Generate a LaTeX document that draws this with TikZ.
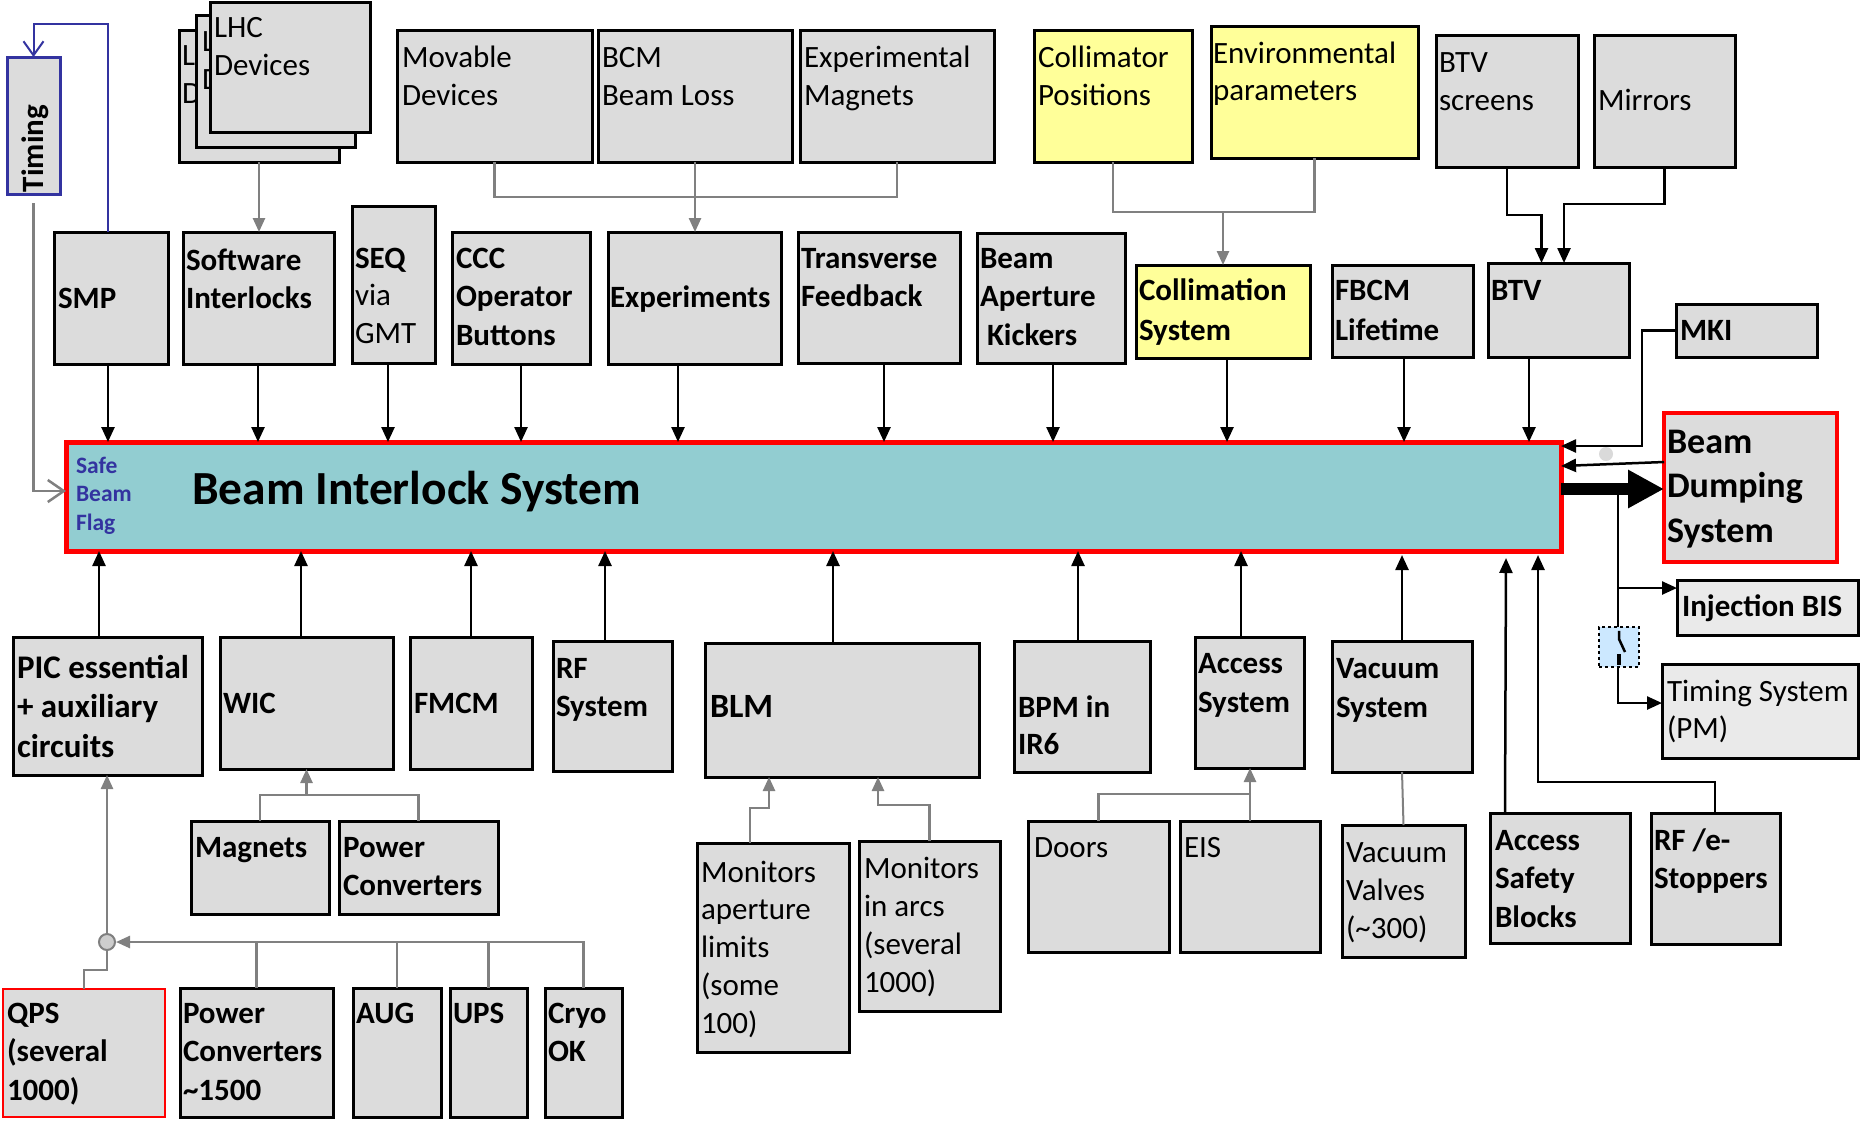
\documentclass[tikz,border=0pt]{standalone}
\usepackage{fontspec}
\setmainfont{Carlito}
\usetikzlibrary{arrows.meta,calc}
\definecolor{boxgray}{RGB}{220,220,220}
\definecolor{lightgray2}{RGB}{234,234,234}
\definecolor{ylw}{RGB}{255,255,153}
\definecolor{bisfill}{RGB}{146,205,209}
\definecolor{tblue}{RGB}{51,51,160}
\definecolor{cgray}{RGB}{128,128,128}
\definecolor{circgray}{RGB}{205,205,205}
\definecolor{dotgray}{RGB}{218,218,218}
\definecolor{swblue}{RGB}{204,232,255}
\newcommand\T[1]{\begin{tabular}[t]{@{}l@{}}#1\end{tabular}}
\newcommand\bx[6][]{\node[box,#1,anchor=north west,minimum width={#5-#3},minimum height={#6-#4}] (#2) at (#3,#4) {};}
\newcommand\tx[5][]{\node[lbl,#1,anchor=base west] (#2) at (#3,#4) {\T{#5}};}
\begin{document}
\begin{tikzpicture}[x=1pt,y=-1pt,
  box/.style={rectangle,draw=black,fill=boxgray,line width=3pt,inner sep=0pt,outer sep=0pt},
  lbl/.style={inner sep=0pt,outer sep=0pt,font=\fontsize{31}{38.5}\selectfont},
  blbl/.style={lbl,font=\fontsize{31}{38.5}\selectfont\bfseries},
  arr/.style={draw=black,line width=2.5pt,-{Triangle[length=15pt,width=13pt]}},
  garr/.style={draw=cgray,line width=2.5pt,-{Triangle[length=14pt,width=12pt]}},
  gline/.style={draw=cgray,line width=2.5pt},
  bline/.style={draw=black,line width=2.5pt}]
\useasboundingbox[fill=white] (0,0) rectangle (1860,1120);

% ---------- top sources ----------
\bx[draw=tblue]{timing}{7}{57}{60}{194}
\node[lbl,font=\fontsize{31}{38}\selectfont\bfseries,rotate=90,anchor=base west] (t-timing) at (43,192) {Timing};

\bx{lhc3}{179}{30}{339}{162}
\tx{t-lhc3}{182}{65}{L\\D}
\bx{lhc2}{196}{15}{355}{147}
\tx{t-lhc2}{202}{51}{L\\D}
\bx{lhc1}{210}{2}{370}{132}
\tx{t-lhc1}{214}{37}{LHC\\Devices}

\bx{mov}{397}{30}{592}{162}
\tx{t-mov}{402}{67}{Movable\\Devices}
\bx{bcm}{598}{30}{792}{162}
\tx{t-bcm}{602}{67}{BCM\\Beam Loss}
\bx{expm}{800}{30}{994}{162}
\tx{t-expm}{804}{67}{Experimental\\Magnets}
\bx[fill=ylw]{colp}{1034}{30}{1192}{162}
\tx{t-colp}{1038}{67}{Collimator\\Positions}
\bx[fill=ylw]{envp}{1211}{26}{1418}{158}
\tx[font=\fontsize{31}{37}\selectfont]{t-envp}{1213}{63}{Environmental\\parameters}
\bx{btvs}{1436}{35}{1578}{167}
\tx{t-btvs}{1439}{72}{BTV\\screens}
\bx{mir}{1594}{35}{1735}{167}
\tx{t-mir}{1598}{110}{Mirrors}

% ---------- second row ----------
\bx{smp}{54}{232}{168}{364}
\tx[blbl]{t-smp}{58}{308}{SMP}
\bx{si}{183}{232}{334}{364}
\tx[blbl]{t-si}{186}{270}{Software\\Interlocks}
\bx{seq}{352}{206}{435}{363}
\tx[font=\fontsize{31}{37.5}\selectfont]{t-seq}{355}{268}{\textbf{SEQ}\\via\\GMT}
\bx{ccc}{452}{232}{590}{364}
\tx[blbl]{t-ccc}{456}{268}{CCC\\Operator\\Buttons}
\bx{exps}{608}{232}{781}{364}
\tx[blbl]{t-exps}{610}{307}{Experiments}
\bx{tf}{798}{232}{960}{363}
\tx[blbl]{t-tf}{801}{268}{Transverse\\Feedback}
\bx{bak}{977}{233}{1125}{363}
\tx[blbl]{t-bak}{980}{268}{Beam\\Aperture\\~Kickers}
\bx[fill=ylw]{colsys}{1136}{265}{1310}{358}
\tx[blbl,font=\fontsize{31}{40}\selectfont\bfseries]{t-colsys}{1139}{300}{Collimation\\System}
\bx{fbcm}{1332}{265}{1473}{357}
\tx[blbl,font=\fontsize{31}{40}\selectfont\bfseries]{t-fbcm}{1335}{300}{FBCM\\Lifetime}
\bx{btv}{1488}{263}{1629}{357}
\tx[blbl]{t-btv}{1491}{300}{BTV}
\bx{mki}{1676}{304}{1817}{357}
\tx[blbl]{t-mki}{1680}{340}{MKI}

% ---------- BIS ----------
\bx[fill=bisfill,draw=red,line width=5pt]{bis}{66}{442}{1561}{551}
\node[lbl,font=\fontsize{47.5}{56}\selectfont\bfseries,anchor=base west] (t-bis) at (192,504) {Beam Interlock System};
\tx[font=\fontsize{23.5}{28.5}\selectfont\bfseries,text=tblue]{t-sbf}{76}{473}{Safe\\Beam\\Flag}

% ---------- right side ----------
\bx[draw=red,line width=4pt]{bds}{1664}{413}{1837}{562}
\tx[font=\fontsize{36}{44.5}\selectfont\bfseries]{t-bds}{1667}{453}{Beam\\Dumping\\System}
\bx[fill=lightgray2]{ibis}{1677}{580}{1858}{635}
\tx[blbl]{t-ibis}{1682}{616}{Injection BIS}
\bx[fill=lightgray2]{tpm}{1662}{664}{1858}{758}
\tx[font=\fontsize{31}{37}\selectfont]{t-tpm}{1667}{701}{Timing System\\(PM)}

% ---------- bottom row ----------
\bx{pic}{13}{637}{202}{775}
\tx[font=\fontsize{33}{39.5}\selectfont\bfseries]{t-pic}{17}{678}{PIC essential\\+ auxiliary\\circuits}
\bx{wic}{220}{637}{393}{769}
\tx[blbl]{t-wic}{223}{713}{WIC}
\bx{fmcm}{410}{637}{532}{769}
\tx[blbl]{t-fmcm}{414}{713}{FMCM}
\bx{rfs}{553}{641}{672}{771}
\tx[blbl,font=\fontsize{31}{38}\selectfont\bfseries]{t-rfs}{556}{678}{RF\\System}
\bx{blm}{705}{643}{979}{777}
\tx[font=\fontsize{34}{40}\selectfont\bfseries]{t-blm}{710}{717}{BLM}
\bx{bpm}{1014}{641}{1150}{772}
\tx[blbl,font=\fontsize{31}{37}\selectfont\bfseries]{t-bpm}{1018}{717}{BPM in\\IR6}
\bx{acc}{1195}{637}{1304}{768}
\tx[blbl,font=\fontsize{31}{39}\selectfont\bfseries]{t-acc}{1198}{673}{Access\\System}
\bx{vac}{1332}{641}{1472}{772}
\tx[blbl,font=\fontsize{31}{39}\selectfont\bfseries]{t-vac}{1336}{678}{Vacuum\\System}

\bx{mag}{191}{821}{329}{914}
\tx[blbl]{t-mag}{195}{857}{Magnets}
\bx{pc}{339}{821}{498}{914}
\tx[blbl]{t-pc}{343}{857}{Power\\Converters}
\bx[draw=red,line width=2.5pt]{qps}{3}{989}{165}{1117}
\tx[blbl]{t-qps}{7}{1023}{QPS\\(several\\1000)}
\bx{pc2}{180}{988}{333}{1117}
\tx[blbl]{t-pc2}{183}{1023}{Power\\Converters\\\textasciitilde1500}
\bx{aug}{353}{988}{441}{1117}
\tx[blbl]{t-aug}{356}{1023}{AUG}
\bx{ups}{450}{988}{527}{1117}
\tx[blbl]{t-ups}{453}{1023}{UPS}
\bx{cryo}{545}{988}{622}{1117}
\tx[blbl]{t-cryo}{548}{1023}{Cryo\\OK}

\bx{mal}{697}{843}{849}{1052}
\tx[font=\fontsize{31}{37.8}\selectfont]{t-mal}{701}{882}{Monitors\\aperture\\limits\\(some\\100)}
\bx{mia}{859}{841}{1000}{1011}
\tx[font=\fontsize{31}{38}\selectfont]{t-mia}{864}{878}{Monitors\\in arcs\\(several\\1000)}
\bx{doors}{1028}{821}{1169}{952}
\tx{t-doors}{1034}{857}{Doors}
\bx{eis}{1180}{821}{1320}{952}
\tx{t-eis}{1184}{857}{EIS}
\bx{vv}{1342}{825}{1465}{957}
\tx[font=\fontsize{31}{38}\selectfont]{t-vv}{1346}{862}{Vacuum\\Valves\\(\textasciitilde300)}
\bx{asb}{1490}{813}{1630}{943}
\tx[blbl]{t-asb}{1495}{850}{Access\\Safety\\Blocks}
\bx{rfe}{1651}{813}{1780}{944}
\tx[blbl]{t-rfe}{1654}{850}{RF /e-\\Stoppers}

% ---------- connectors, top ----------
\draw[garr] (lhc3.south) -- (lhc3.south |- si.north);
\draw[gline] (mov.south) -- ++(0,35) -| (expm.south);
\draw[garr] (bcm.south) -- (bcm.south |- exps.north);
\draw[gline] (colp.south) -- ++(0,50) -| (envp.south);
\draw[garr] (colsys.north |- 0,212) -- (colsys.north);
\draw[arr] (btvs.south) -- ++(0,48) -| ($(btv.north)+(-17,0)$);
\draw[arr] (mir.south) -- ++(0,37) -| ($(btv.north)+(5.5,0)$);
\draw[draw=tblue,line width=2pt,-{Straight Barb[length=14pt,width=20pt,line width=2pt]}]
  ($(smp.north)+(-3,0)$) -- ++(0,-208) -| (timing.north);
\draw[gline,-{Straight Barb[length=16pt,width=22pt,line width=2.5pt]}]
  ($(timing.south)+(0,9)$) |- (bis.west |- 0,491);
\foreach \n/\xx in {smp/108,si/258,seq/388,ccc/521,exps/678,tf/884,bak/1053,colsys/1227,fbcm/1404,btv/1529}
  \draw[arr] (\n.south -| \xx,0) -- (bis.north -| \xx,0);

% ---------- connectors, right ----------
\draw[arr] (mki.west) -- ++(-34,0) |- (bis.east |- 0,446);
\draw[arr] (bds.west |- 0,462) -- (bis.east |- 0,466);
\node[circle,fill=dotgray,minimum size=14pt,inner sep=0pt] (gdot) at (1606,454) {};
\draw[line width=12pt,-{Triangle[length=36pt,width=36pt]}] (bis.east |- 0,489) -- (bds.west |- 0,489);
\coordinate (br) at (1618,489);
\draw[arr] (br) |- (tpm.west |- 0,703);
\draw[arr] (br |- 0,588) -- (ibis.west |- 0,588);
\node[rectangle,draw=black,fill=swblue,line width=2.5pt,dash pattern=on 3pt off 3pt,minimum width=40pt,minimum height=40pt,inner sep=0pt] (sw) at (1619,647) {};
\draw[line width=2.5pt] ($(sw.north)+(0,5)$) -- ($(sw.center)+(0,-8)$) -- ($(sw.center)+(6,5)$);
\draw[line width=4pt] ($(sw.center)+(0,7)$) -- ($(sw.south)+(0,-3)$);

% ---------- connectors, bottom ----------
\foreach \n/\xx in {pic/99,wic/301,fmcm/471,rfs/605,blm/833,bpm/1078,acc/1241}
  \draw[arr] (\n.north -| \xx,0) -- (bis.south -| \xx,0);
\draw[arr] (vac.north -| 1402,0) -- ($(bis.south -| 1402,0)+(0,4)$);
\draw[arr] (asb.north -| 1505,0) -- ($(bis.south -| 1506,0)+(0,7)$);
\draw[arr] (rfe.north -| 1715,0) -- ++(0,-31) -| ($(bis.south -| 1538,0)+(0,4)$);

\draw[gline] (mag.north) -- ++(0,-26) -| (pc.north);
\draw[garr] (wic.south |- 0,795) -- (wic.south);

\node[circle,draw=cgray,fill=circgray,line width=2pt,minimum size=16pt,inner sep=0pt] (jn) at (107,942) {};
\draw[garr] (jn.north) -- (jn.north |- pic.south);
\draw[gline] (qps.north) -- ++(0,-19) -| (jn.south);
\draw[garr] (cryo.north) |- (jn.east);
\foreach \n in {pc2,aug,ups}
  \draw[gline] (\n.north) -- (\n.north |- jn.center);

\draw[garr] (mal.north -| 750,0) -- ++(0,-35) -| (blm.south -| 769,0);
\draw[garr] (mia.north) -- ++(0,-36) -| (blm.south -| 878,0);
\draw[gline] (doors.north) -- ++(0,-27) -| (eis.north);
\draw[garr] (eis.north) -- (eis.north |- acc.south);
\draw[gline,line width=2pt] (vac.south) -- (vv.north);
\end{tikzpicture}
\end{document}
